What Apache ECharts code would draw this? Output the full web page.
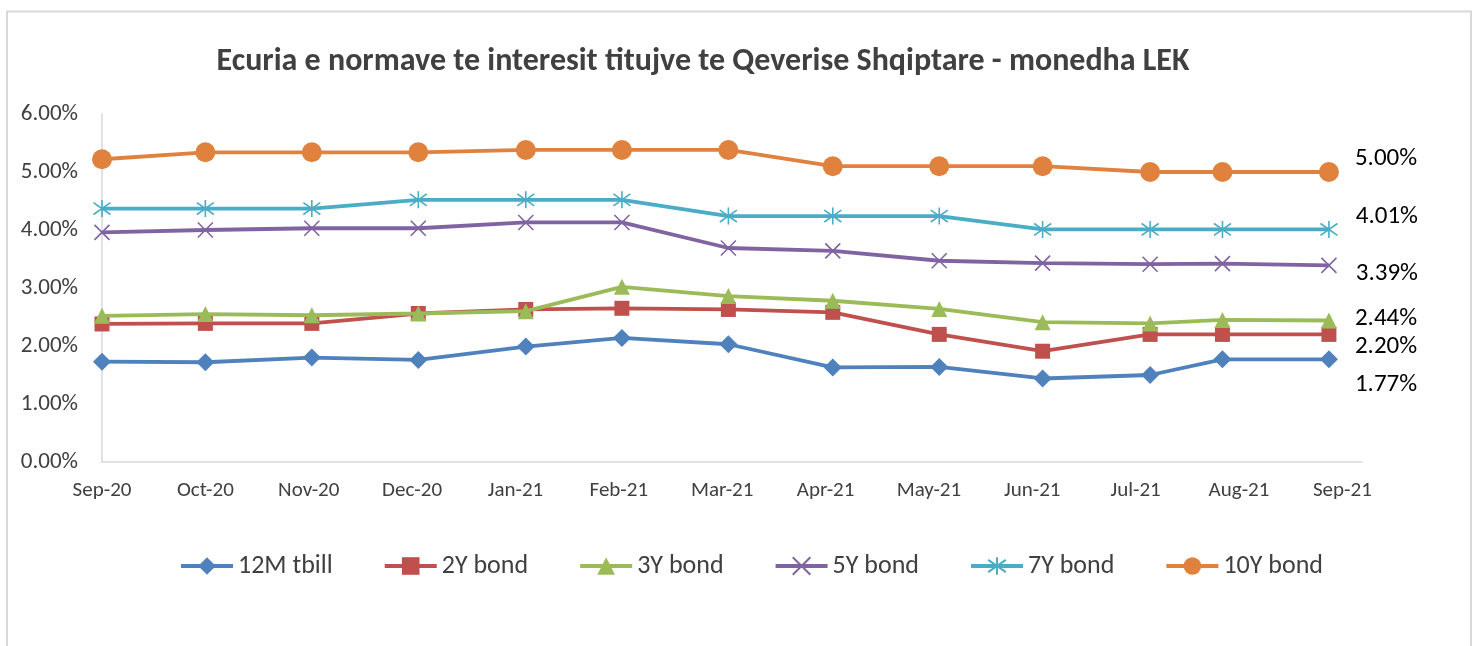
<!DOCTYPE html>
<html>
<head>
<meta charset="utf-8">
<script src="https://cdn.jsdelivr.net/npm/echarts@6/dist/echarts.min.js"></script>
<style>
html,body{margin:0;padding:0;background:#fff;}
#chart{width:1476px;height:646px;}
</style>
</head>
<body>
<div id="chart"></div>
<script>
// Month tick labels (x-axis, one per month index 0..12)
const monthLabels = ['Sep-20','Oct-20','Nov-20','Dec-20','Jan-21','Feb-21','Mar-21','Apr-21','May-21','Jun-21','Jul-21','Aug-21','Sep-21'];
const obsPos = [0, 1.00, 2.03, 3.06, 4.10, 5.03, 6.06, 7.07, 8.10, 9.10, 10.14, 10.84, 11.87];
// Series values in percent
const tbill12M = [1.73, 1.72, 1.80, 1.76, 1.99, 2.14, 2.03, 1.63, 1.64, 1.44, 1.50, 1.77, 1.77];
const bond2Y   = [2.38, 2.39, 2.39, 2.56, 2.63, 2.65, 2.63, 2.58, 2.20, 1.91, 2.20, 2.20, 2.20];
const bond3Y   = [2.52, 2.55, 2.53, 2.56, 2.60, 3.02, 2.86, 2.78, 2.64, 2.41, 2.39, 2.45, 2.44];
const bond5Y   = [3.96, 4.00, 4.03, 4.03, 4.13, 4.13, 3.69, 3.64, 3.47, 3.43, 3.41, 3.42, 3.39];
const bond7Y   = [4.37, 4.37, 4.37, 4.52, 4.52, 4.52, 4.24, 4.24, 4.24, 4.01, 4.01, 4.01, 4.01];
const bond10Y  = [5.22, 5.34, 5.34, 5.34, 5.38, 5.38, 5.38, 5.10, 5.10, 5.10, 5.00, 5.00, 5.00];
const seriesNames = ['12M tbill','2Y bond','3Y bond','5Y bond','7Y bond','10Y bond'];
const yTicks = [0, 1, 2, 3, 4, 5, 6];

const FONT = 'Carlito, Lato, "Liberation Sans", sans-serif';
const pair = vals => vals.map((v, i) => [obsPos[i], v]);

const styles = [
  {color:'#4F81BD', symbol:'diamond', size:18, dy:25},
  {color:'#C0504D', symbol:'rect', size:15, dy:12},
  {color:'#9BBB59', symbol:'triangle', size:16, dy:-2},
  {color:'#8064A2', symbol:'path://M0,0L10,10M10,0L0,10', size:15, dy:8, stroke:true},
  {color:'#4BACC6', symbol:'path://M5,0L5,10M0,1.5L10,8.5M10,1.5L0,8.5', size:17, dy:-13, stroke:true},
  {color:'#E0823D', symbol:'circle', size:20, dy:-13}
];
const allData = [tbill12M, bond2Y, bond3Y, bond5Y, bond7Y, bond10Y];

const series = allData.map((vals, k) => {
  const s = styles[k];
  const last = vals.length - 1;
  return {
    name: seriesNames[k],
    type: 'line',
    data: pair(vals),
    symbol: s.symbol,
    symbolSize: s.size,
    showAllSymbol: true,
    z: 2 + k,
    lineStyle: {color: s.color, width: 3.8},
    itemStyle: s.stroke ? {color: s.color, borderColor: s.color, borderWidth: 1.6} : {color: s.color},
    emphasis: {disabled: true},
    label: {
      show: true,
      position: 'right',
      distance: 26 - s.size / 2,
      offset: [0, s.dy],
      color: '#000',
      fontFamily: FONT,
      fontSize: 25,
      formatter: p => p.dataIndex === last ? p.value[1].toFixed(2) + '%' : ''
    }
  };
});

const chart = echarts.init(document.getElementById('chart'), null, {renderer: 'canvas'});
chart.setOption({
  animation: false,
  backgroundColor: '#fff',
  title: {
    text: 'Ecuria e normave te interesit titujve te Qeverise Shqiptare - monedha LEK',
    left: 703, top: 46, textAlign: 'center', padding: 0,
    textStyle: {fontFamily: FONT, fontWeight: 'bold', fontSize: 32, color: '#404040'}
  },
  graphic: [{
    type: 'rect', silent: true, z: -1,
    shape: {x: 7, y: 11.5, width: 1464, height: 700},
    style: {fill: 'none', stroke: '#D9D9D9', lineWidth: 2}
  }],
  grid: {left: 102, right: 114, top: 114, bottom: 184, containLabel: false},
  xAxis: {
    type: 'value', min: 0, max: 12.19, interval: 1,
    axisLine: {show: true, lineStyle: {color: '#D9D9D9', width: 1.5}},
    axisTick: {show: false},
    splitLine: {show: false},
    axisLabel: {
      color: '#404040', fontFamily: FONT, fontSize: 21, margin: 18,
      showMaxLabel: false,
      formatter: v => (Math.abs(v - Math.round(v)) < 1e-6 && monthLabels[Math.round(v)]) ? monthLabels[Math.round(v)] : ''
    }
  },
  yAxis: {
    type: 'value', min: yTicks[0], max: yTicks[yTicks.length - 1], interval: 1,
    axisLine: {show: true, lineStyle: {color: '#D9D9D9', width: 1.5}},
    axisTick: {show: false},
    splitLine: {show: false},
    axisLabel: {color: '#404040', fontFamily: FONT, fontSize: 23, margin: 24, formatter: v => v.toFixed(2) + '%'}
  },
  legend: {
    left: 174, top: 548,
    itemWidth: 52, itemHeight: 22, itemGap: 50,
    lineStyle: {width: 4},
    textStyle: {color: '#404040', fontFamily: FONT, fontSize: 26},
    data: seriesNames
  },
  series: series
});
</script>
</body>
</html>
